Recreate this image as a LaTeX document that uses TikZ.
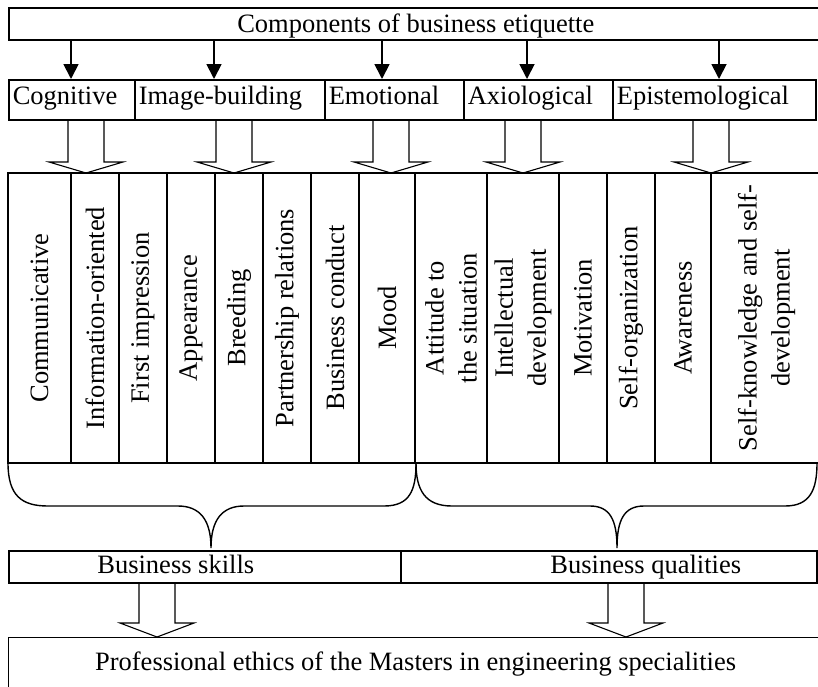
\documentclass[tikz,border=0pt]{standalone}
\usepackage{fontspec}
\setmainfont{Liberation Serif}
\usetikzlibrary{arrows.meta}
\tikzset{
  every node/.style={font=\fontsize{26.5}{33}\selectfont, inner sep=0pt},
  headbox/.style={draw, line width=1.6pt, minimum height=32pt, anchor=north west, text height=18.3pt, text depth=0pt},
  rowbox/.style={draw, line width=1.6pt, minimum height=40pt, anchor=north west, align=left, inner xsep=4pt, text height=18.3pt, text depth=8.2pt},
  col/.style={draw, line width=1.6pt, rotate=90, minimum width=290pt, align=center},
  lowbox/.style={draw, line width=1.6pt, minimum height=32pt, anchor=north west},
  lowtext/.style={text height=18.3pt, text depth=4.2pt},
  down/.style={line width=1.8pt, -{Triangle[width=15pt,length=15pt]}},
  hollow/.style={line width=1.1pt},
  brace/.style={line width=1.4pt}
}
\begin{document}
\begin{tikzpicture}[x=1pt, y=-1pt]
  \useasboundingbox (0,0) rectangle (818,686);
  % top box
  \node[headbox, minimum width=814pt] (top) at (8,7) {Components of business etiquette};
  % components
  \foreach \n/\a/\b/\t in {cog/8/134/Cognitive, ig/134/324/Image-building, emo/324/463/Emotional, axi/463/612/Axiological, epi/612/815/Epistemological} {
    \pgfmathsetmacro\w{\b-\a-8}
    \node[rowbox, text width=\w pt] (\n) at (\a,79) {\t};
  }
  \foreach \n/\x in {cog/71, ig/214, emo/382, axi/527, epi/719}
    \draw[down] (top.south -| \x,0) -- (\n.north -| \x,0);
  % hollow arrows
  \foreach \x in {86,234,391,523,711}
    \draw[hollow] ({\x-18},119) -- ({\x-18},162) -- ({\x-37},162) -- (\x,173) -- ({\x+37},162) -- ({\x+18},162) -- ({\x+18},119);
  % columns
  \foreach \a/\b/\t [count=\i] in {8/71/Communicative, 71/119/Information-oriented, 119/167/First impression, 167/215/Appearance, 215/263/Breeding, 263/311/Partnership relations, 311/359/Business conduct, 359/415/Mood, 415/487/{Attitude to\\the situation}, 487/559/{Intellectual\\development}, 559/607/Motivation, 607/655/Self-organization, 655/711/Awareness, 711/822/{Self-knowledge and self-\\development}} {
    \pgfmathsetmacro\w{\b-\a}
    \node[col, minimum height=\w pt] (col\i) at ({(\a+\b)/2},318) {\t};
  }
  % braces
  \draw[brace] (8,463) .. controls (8,496) and (22,506) .. (48,506) -- (178,506)
    .. controls (200,506) and (211,520) .. (211,548)
    .. controls (211,520) and (222,506) .. (244,506) -- (384,506)
    .. controls (410,506) and (416,490) .. (416,463);
  \draw[brace] (416,463) .. controls (416,490) and (425,506) .. (452,506) -- (590,506)
    .. controls (610,506) and (617,520) .. (617,548)
    .. controls (617,520) and (624,506) .. (644,506) -- (785,506)
    .. controls (810,506) and (817,490) .. (817,463);
  % skills and qualities
  \node[lowbox, minimum width=392pt, label={[lowtext, xshift=-29pt]center:Business skills}] (skills) at (8,550) {};
  \node[lowbox, minimum width=416pt, label={[lowtext, xshift=37pt]center:Business qualities}] (quals) at (400,550) {};
  \foreach \x in {157,626}
    \draw[hollow] ({\x-18},582) -- ({\x-18},623) -- ({\x-37},623) -- (\x,637) -- ({\x+37},623) -- ({\x+18},623) -- ({\x+18},582);
  % result
  \node[draw, line width=1.2pt, anchor=north west, minimum width=814pt, minimum height=54pt, text height=18.3pt, text depth=5.8pt] (ethics) at (8,637) {Professional ethics of the Masters in engineering specialities};
\end{tikzpicture}
\end{document}
